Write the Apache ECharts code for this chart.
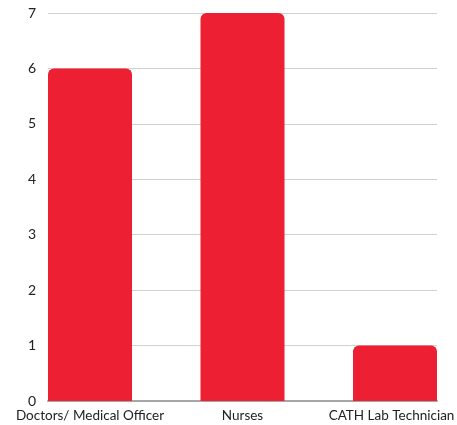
<!DOCTYPE html>
<html>
<head>
<meta charset="utf-8">
<script src="https://cdn.jsdelivr.net/npm/echarts@6/dist/echarts.min.js"></script>
<style>
  html, body { margin: 0; padding: 0; background: #fff; }
  #chart { width: 457px; height: 425px; }
</style>
</head>
<body>
<div id="chart"></div>
<script>
// data
var categories = ['Doctors/ Medical Officer', 'Nurses', 'CATH Lab Technician'];
var staffCounts = [6, 7, 1];
var yTicks = { min: 0, max: 7, step: 1 };

var chart = echarts.init(document.getElementById('chart'));
var font = 'Lato';

// outer bars sit flush with the plot edges, so the x axis is a plain
// value axis with category indexes 0..n-1 and a bit of padding each side
var pad = 0.2754;
var positions = categories.map(function (c, i) { return i; });
var barData = staffCounts.map(function (v, i) { return [i, v]; });

var option = {
  animation: false,
  textStyle: { fontFamily: font },
  grid: { left: 48, right: 20, top: 13, bottom: 24, outerBoundsMode: 'none' },
  xAxis: {
    type: 'value',
    min: -pad, max: categories.length - 1 + pad,
    axisLine: { show: true, onZero: false, lineStyle: { color: '#a6a6a6', width: 2 } },
    axisTick: { show: false },
    splitLine: { show: false },
    axisLabel: {
      customValues: positions,
      showMinLabel: true, showMaxLabel: true, hideOverlap: false,
      color: '#222', fontSize: 13.5, margin: 8, fontFamily: font,
      formatter: function (v) {
        var i = Math.round(v);
        // last label sits a little left so it stays on the canvas
        return i === categories.length - 1 ? '{last|' + categories[i] + '}' : categories[i];
      },
      rich: {
        last: { color: '#222', fontSize: 13.5, fontFamily: font, padding: [0, 7, 0, 0] }
      }
    }
  },
  yAxis: {
    type: 'value', min: yTicks.min, max: yTicks.max, interval: yTicks.step,
    axisLine: { show: false }, axisTick: { show: false },
    axisLabel: { color: '#222', fontSize: 14, margin: 12, fontFamily: font },
    splitLine: { lineStyle: { color: '#d0d0d0', width: 1 } }
  },
  series: [
    {
      type: 'bar',
      data: barData,
      barWidth: 84,
      itemStyle: { color: '#ED1F33', borderRadius: [6, 6, 0, 0] }
    }
  ]
};

chart.setOption(option);
</script>
</body>
</html>
